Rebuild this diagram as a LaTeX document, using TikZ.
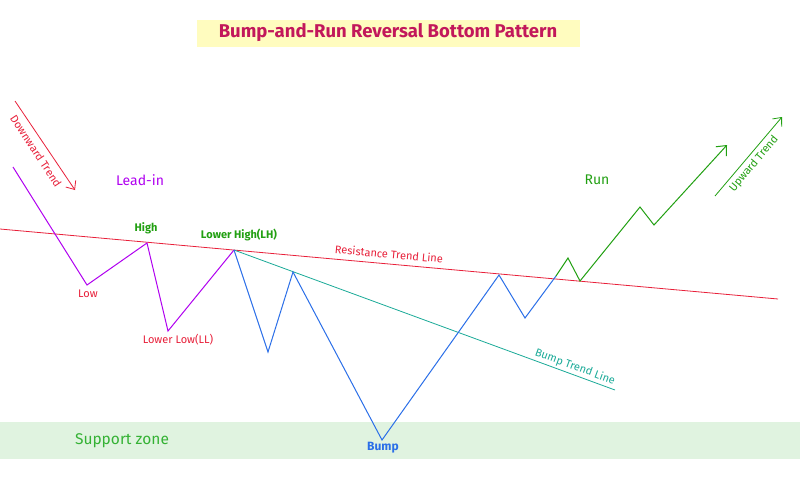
\documentclass[tikz,border=0pt]{standalone}
\usepackage{fontspec}
\setmainfont{Fira Sans}
\usetikzlibrary{arrows.meta}
\definecolor{pur}{HTML}{B000F0}
\definecolor{rd}{HTML}{E8203A}
\definecolor{gr}{HTML}{22A012}
\definecolor{bl}{HTML}{2B6FE8}
\definecolor{tl}{HTML}{1AAA98}
\begin{document}
\begin{tikzpicture}[x=1pt,y=-1pt,
  lbl/.style={font=\fontsize{11}{13}\selectfont},
  ln/.style={line width=1pt}]
\useasboundingbox (0,0) rectangle (800,477);
\fill[white] (0,0) rectangle (800,477);
\fill[green!60!black!12] (0,422) rectangle (800,459);
\node[text=green!55!gray!90!black,font=\fontsize{15.5}{18}\selectfont] (sz) at (122,441) {Support zone};
\node[fill=yellow!25,minimum width=383pt,minimum height=27pt,inner sep=1pt,text={rgb,255:red,194;green,24;blue,91},font=\fontsize{18.5}{20}\selectfont\bfseries] (t) at (388,33) {Bump-and-Run Reversal Bottom Pattern};
% lines
\coordinate (r1) at (0,229); \coordinate (r2) at (778,299);
\draw[rd,line width=0.8pt] (r1) -- (r2);
\coordinate (b1) at (234,250); \coordinate (b2) at (615,390);
\draw[tl,line width=0.8pt] (b1) -- (b2);
\coordinate (p0) at (13,167); \coordinate (p1) at (87,285); \coordinate (p2) at (147,243);
\coordinate (p3) at (168,331);
\draw[pur,ln] (p0) -- (p1) -- (p2) -- (p3) -- (b1);
\coordinate (q1) at (268,352); \coordinate (q2) at (293,272); \coordinate (q3) at (382,440);
\coordinate (q4) at (499,275); \coordinate (q5) at (525,318); \coordinate (q6) at (556,276);
\draw[bl,ln] (b1) -- (q1) -- (q2) -- (q3) -- (q4) -- (q5) -- (q6);
\coordinate (g1) at (568,258); \coordinate (g2) at (580,281); \coordinate (g3) at (640,207);
\coordinate (g4) at (654,225); \coordinate (g5) at (727,145);
\draw[gr,ln,-{Straight Barb[length=8pt,width=14pt]}] (q6) -- (g1) -- (g2) -- (g3) -- (g4) -- (g5);
% trend arrows
\coordinate (d1) at (15,101); \coordinate (d2) at (75,190);
\draw[rd,line width=0.8pt,-{Straight Barb[length=7pt,width=12pt]}] (d1) -- (d2);
\node[rd,lbl,rotate=-56.5] (dt) at (36,151) {Downward Trend};
\coordinate (u1) at (715,196); \coordinate (u2) at (782,117);
\draw[gr,line width=0.8pt,-{Straight Barb[length=7pt,width=12pt]}] (u1) -- (u2);
\node[gr,lbl,rotate=50] (ut) at (754,164) {Upward Trend};
% labels
\node[pur,font=\fontsize{14}{16}\selectfont] (li) at (140,180) {Lead-in};
\node[gr,font=\fontsize{14}{16}\selectfont] (run) at (597,180) {Run};
\node[gr,font=\fontsize{11}{13}\selectfont\bfseries] (hi) at (146,228) {High};
\node[rd,lbl] (lo) at (88,294) {Low};
\node[rd,lbl] (ll) at (178,340) {Lower Low(LL)};
\node[gr,font=\fontsize{11}{13}\selectfont\bfseries] (lh) at (239,235) {Lower High(LH)};
\node[rd,lbl,rotate=-5.1] (rt) at (389,254) {Resistance Trend Line};
\node[tl,lbl,rotate=-20.2] (bt) at (575,367) {Bump Trend Line};
\node[bl,font=\fontsize{12}{14}\selectfont\bfseries] (bp) at (383,448) {Bump};
\end{tikzpicture}
\end{document}
